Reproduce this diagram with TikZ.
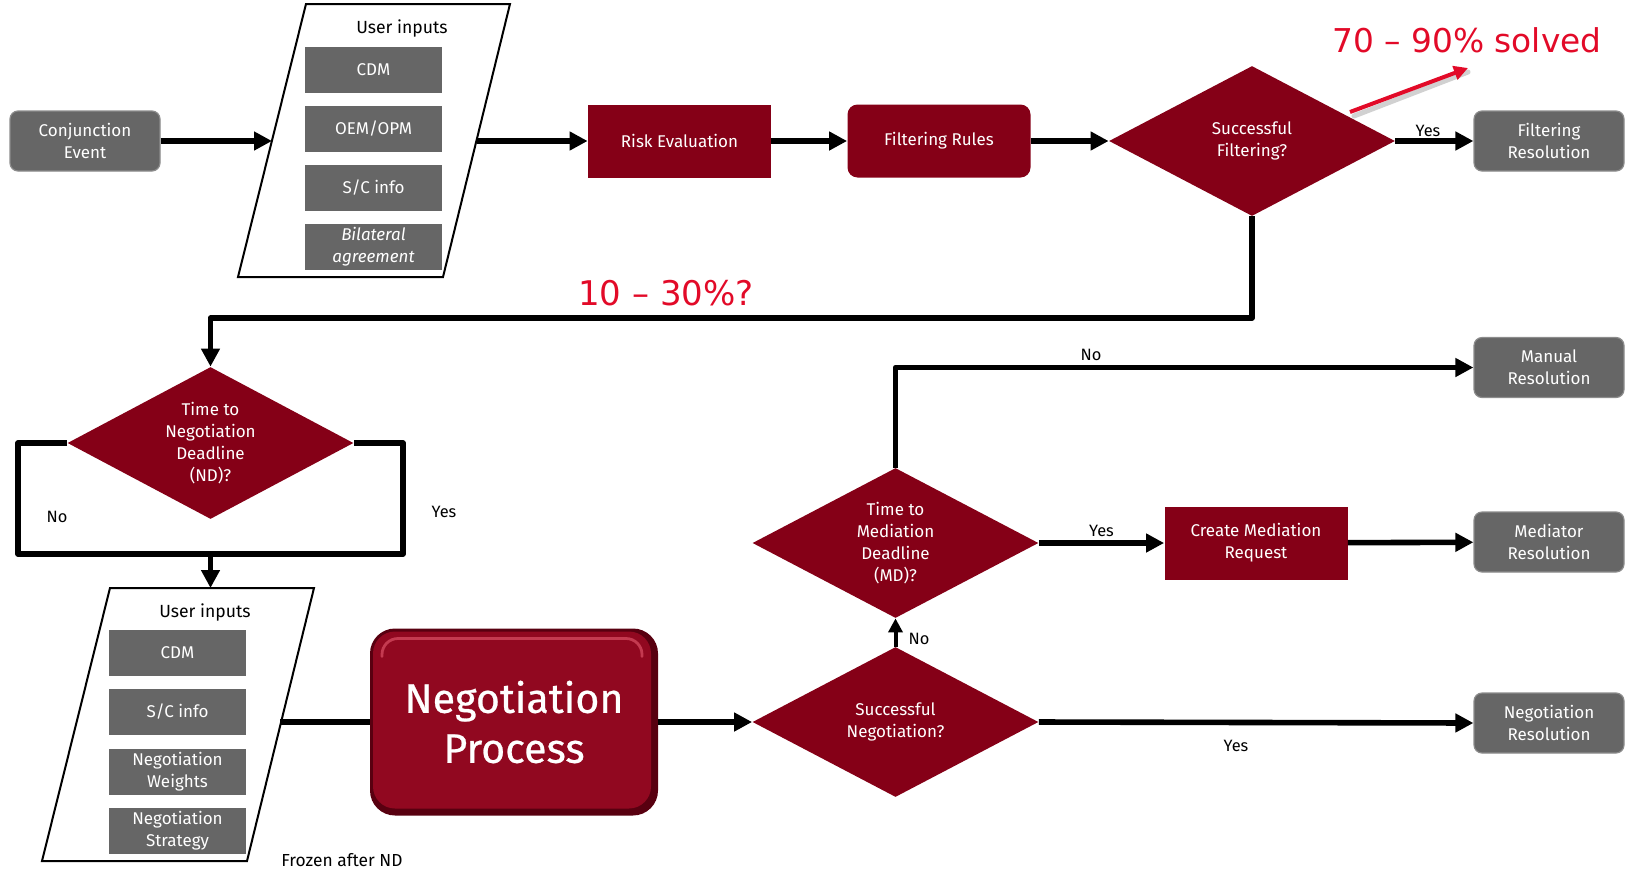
\documentclass[tikz,border=0pt]{standalone}
\usepackage{fontspec}
\setmainfont{Fira Sans}
\newfontfamily\pctfont{DejaVu Sans}
\newfontfamily\negfont[FakeBold=0.6]{Fira Sans}
\usetikzlibrary{arrows.meta}
\usetikzlibrary{calc}
\usetikzlibrary{shapes.geometric}

\definecolor{cdred}{RGB}{133,0,23}
\definecolor{cdgrey}{RGB}{102,102,102}
\definecolor{cdalert}{RGB}{226,10,40}
\definecolor{cdshade}{RGB}{88,0,16}
\definecolor{cdbody}{RGB}{145,8,32}
\definecolor{cdlight}{RGB}{196,58,80}

\tikzset{
  flowtxt/.style={font=\fontsize{8.5}{11}\selectfont, text=white, align=center, inner sep=0pt},
  smalltxt/.style={font=\fontsize{8.2}{10}\selectfont, text=black, inner sep=1pt},
  greybox/.style={flowtxt, fill=cdgrey, minimum width=68.5pt, minimum height=23pt},
  resbox/.style={flowtxt, fill=cdgrey, draw=cdgrey!75!white, line width=0.6pt, rounded corners=4pt, minimum width=75pt, minimum height=30pt},
  redbox/.style={flowtxt, fill=cdred, minimum width=91.5pt, minimum height=36.5pt},
  decision/.style={flowtxt, diamond, aspect=2, fill=cdred, minimum width=143pt, minimum height=75pt},
  inputpar/.style={draw=black, line width=1pt, fill=white},
  negbox/.style={font=\negfont\fontsize{20.6}{25}\selectfont, text=white, align=center, inner sep=0pt,
    minimum width=144pt, minimum height=93.5pt, rounded corners=12.5pt, fill=cdshade,
    path picture={
      \fill[cdbody, rounded corners=11pt] ([shift={(1.5pt,-1.5pt)}]path picture bounding box.north west) rectangle ([shift={(-3.5pt,3.5pt)}]path picture bounding box.south east);
      \draw[cdlight, line width=1.4pt, line cap=round, rounded corners=8pt] ([shift={(6pt,-14pt)}]path picture bounding box.north west) -- ([shift={(6pt,-5pt)}]path picture bounding box.north west) -- ([shift={(-8pt,-5pt)}]path picture bounding box.north east) -- ([shift={(-8pt,-14pt)}]path picture bounding box.north east);
    }},
  flowline/.style={draw=black, line width=2.8pt, line join=round},
  flow/.style={flowline, -{Triangle[length=9pt,width=9pt]}},
  alerttxt/.style={font=\pctfont\fontsize{16.4}{18}\selectfont, text=cdalert, inner sep=0pt},
  alertarrow/.style={draw=cdalert, line width=2pt, -{Triangle[length=7pt,width=7pt]}}
}

\begin{document}
\begin{tikzpicture}[x=0.5pt, y=-0.5pt]
    \newcommand{\flowrowy}{141}
    \newcommand{\flowresx}{1549}
    \newcommand{\flowfoldy}{318}
    \newcommand{\flownegy}{722}
    \useasboundingbox (0,0) rectangle (1632,873);

    \node[resbox] (conj) at (85,\flowrowy) {Conjunction\\Event};

    \draw[inputpar] (306,4) -- (510,4) -- (443,277) -- (238,277) -- cycle;
    \coordinate (in1w) at (272,\flowrowy);
    \coordinate (in1e) at (477,\flowrowy);
    \node[smalltxt, font=\fontsize{8.8}{10}\selectfont] (in1title) at (402,29) {User inputs};
    \node[greybox] (in1a) at (373.5,69.5) {CDM};
    \node[greybox] (in1b) at (373.5,129) {OEM/OPM};
    \node[greybox] (in1c) at (373.5,188) {S/C info};
    \node[greybox] (in1d) at (373.5,246.5) {\itshape Bilateral\\\itshape agreement};

    \node[redbox] (risk) at (679.5,\flowrowy) {Risk Evaluation};
    \node[redbox, rounded corners=5pt] (filt) at (939,\flowrowy) {Filtering Rules};
    \node[decision] (dfilt) at (1252,\flowrowy) {Successful\\Filtering?};
    \node[resbox] (filtres) at (\flowresx,\flowrowy) {Filtering\\Resolution};

    \draw[flow] (conj) -- (in1w);
    \draw[flow] (in1e) -- (risk);
    \draw[flow] (risk) -- (filt);
    \draw[flow] (filt) -- (dfilt);
    \draw[flow] (dfilt.east) -- (filtres);
    \node[smalltxt] (filtyes) at (1428,131) {Yes};

    \node[alerttxt] (solved) at (1467,40) {70 – 90\% solved};
    \coordinate (solvtail) at (1350,112);
    \coordinate (solvtip) at (1468,68);
    \draw[line width=2.5pt, black, opacity=0.18, line cap=round] ([shift={(2pt,-2pt)}]solvtail) -- ([shift={(0pt,-2pt)}]solvtip);
    \draw[alertarrow] (solvtail) -- (solvtip);

    \node[alerttxt, font=\pctfont\fontsize{17}{19}\selectfont] (rest) at (666,293) {10 – 30\%?};

    \node[decision, minimum height=76pt] (dnd) at (210.5,443) {Time to\\Negotiation\\Deadline\\(ND)?};
    \coordinate (fold) at (0,\flowfoldy);
    \draw[flow] (dfilt.south) -- (dfilt.south |- fold) -- (dnd.north |- fold) -- (dnd.north);

    \coordinate (ndl) at (18,554);
    \coordinate (ndr) at (403,554);
    \coordinate (ndjoin) at (210.5,554);
    \coordinate (in2n) at (210.5,588);
    \draw[flowline] (dnd.west) -| (ndl) -- (ndr) |- (dnd.east);
    \draw[flow] (ndjoin) -- (in2n);
    \node[smalltxt] (ndno) at (57,517) {No};
    \node[smalltxt] (ndyes) at (444,512) {Yes};

    \draw[inputpar] (110,588) -- (314,588) -- (247,861) -- (42,861) -- cycle;
    \coordinate (in2e) at (280,\flownegy);
    \node[smalltxt, font=\fontsize{8.8}{10}\selectfont] (in2title) at (205,612) {User inputs};
    \node[greybox] (in2a) at (177.5,652.5) {CDM};
    \node[greybox] (in2b) at (177.5,712) {S/C info};
    \node[greybox] (in2c) at (177.5,771.5) {Negotiation\\Weights};
    \node[greybox] (in2d) at (177.5,831) {Negotiation\\Strategy};
    \node[smalltxt, font=\fontsize{8.7}{10}\selectfont] (frozen) at (342,860) {Frozen after ND};

    \node[negbox] (negp) at (514,\flownegy) {Negotiation\\Process};
    \draw[flowline] (in2e) -- (negp);

    \node[decision] (dneg) at (895.5,\flownegy) {Successful\\Negotiation?};
    \node[decision] (dmd) at (895.5,543) {Time to\\Mediation\\Deadline\\(MD)?};
    \node[redbox] (cmr) at (1256,543) {Create Mediation\\Request};
    \node[resbox] (manres) at (\flowresx,367.5) {Manual\\Resolution};
    \node[resbox] (medres) at (\flowresx,542) {Mediator\\Resolution};
    \node[resbox] (negres) at (\flowresx,723) {Negotiation\\Resolution};

    \draw[flow] (negp) -- (dneg);
    \draw[flow, -{Triangle[length=7pt,width=7pt]}, line width=2pt] (dneg.north) -- (dmd.south);
    \node[smalltxt] (negno) at (919,639) {No};
    \draw[flow] (dmd.north) |- (manres.west);
    \node[smalltxt] (mdno) at (1091,355) {No};
    \draw[flow] (dmd.east) -- node[smalltxt, above=1pt] {Yes} (cmr);
    \draw[flow] (cmr) -- (medres);
    \draw[flow] (dneg.east) -- (negres.west);
    \node[smalltxt] (negyes) at (1236,746) {Yes};
\end{tikzpicture}
\end{document}
